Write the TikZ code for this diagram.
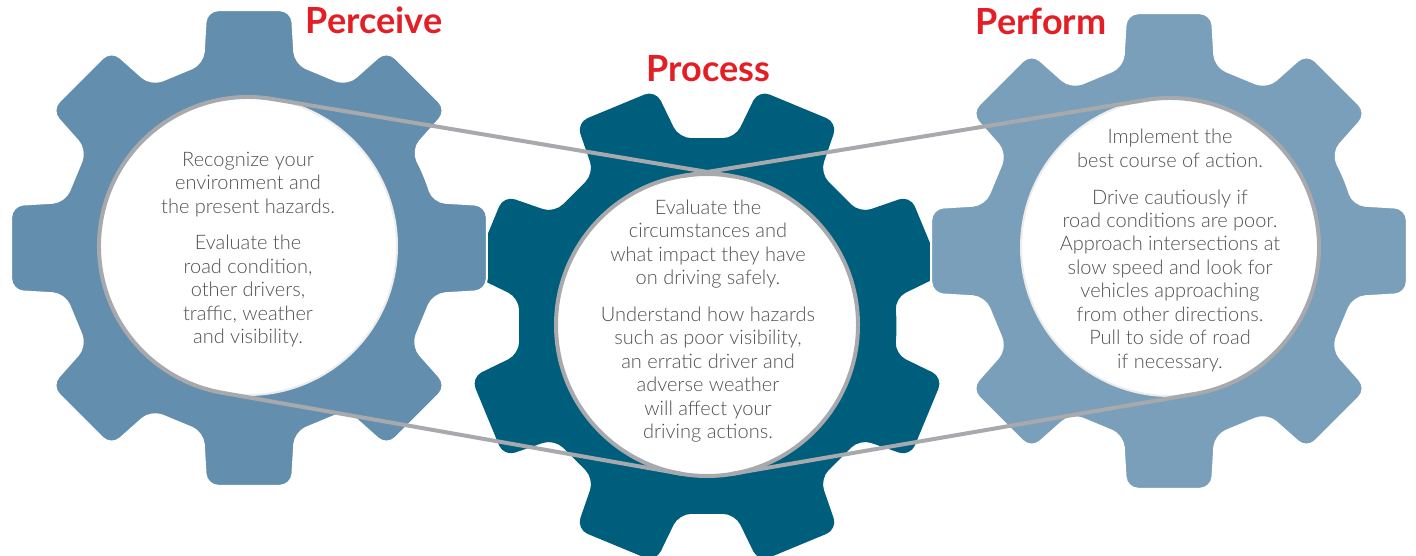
\documentclass[tikz,border=0pt]{standalone}
\usepackage{fontspec}
\setmainfont{Lato}
\IfFontExistsTF{Lato Light}{\newfontfamily\bodyfont{Lato Light}}{\newfontfamily\bodyfont{Lato}}
\usetikzlibrary{calc}
\definecolor{gearL}{RGB}{99,142,173}
\definecolor{gearM}{RGB}{0,94,125}
\definecolor{gearR}{RGB}{122,159,186}
\definecolor{belt}{RGB}{167,169,172}
\definecolor{rimgray}{RGB}{236,236,236}
\definecolor{txt}{RGB}{80,81,83}
\definecolor{ttl}{RGB}{227,30,36}
\tikzset{
  disc/.style={circle, fill=white, draw=rimgray, line width=1.5pt, inner sep=0pt, minimum size=#1},
  beltline/.style={draw=belt, line width=3pt},
  bodytext/.style={text=txt, align=center, font=\bodyfont\fontsize{15}{17.6}\selectfont},
  titletext/.style={text=ttl, anchor=base, font=\bfseries\fontsize{27}{32}\selectfont},
}
% #1 cx, #2 cy, #3 rotation, #4 style
\newcommand{\gearpath}[4]{%
  \path[rounded corners=9pt, shift={(#1,#2)}, #4] (#3-22.5:190)
    \foreach \k in {0,...,7}{
      -- (#3+45*\k-14:190) -- (#3+45*\k-10.2:241.6)
      -- (#3+45*\k+10.2:241.6) -- (#3+45*\k+14:190)
    } -- cycle;}
\begin{document}
\begin{tikzpicture}[x=0.75pt,y=-0.75pt]
\useasboundingbox (0,0) rectangle (1416,556);
% gears
\gearpath{707}{326}{22.5}{fill=gearM}
\gearpath{249}{248}{0}{fill=gearL, draw=white, line width=1.5pt}
\gearpath{1169}{251}{0}{fill=gearR, draw=white, line width=1.5pt}
% circles
\node[disc=223.5pt] (L) at (248,246) {};
\node[disc=223.5pt] (R) at (1170,247) {};
\node[disc=226.5pt, draw=belt, line width=3pt] (M) at (707,325) {};
% tangent points
\coordinate (Lt)  at ($(L.center)+(-80.24:149)$);
\coordinate (Lb)  at ($(L.center)+(99.76:149)$);
\coordinate (Mt1) at ($(M.center)+(-80.24:151)$);
\coordinate (Mb1) at ($(M.center)+(99.76:151)$);
\coordinate (Mt2) at ($(M.center)+(-99.56:151)$);
\coordinate (Mb2) at ($(M.center)+(80.44:151)$);
\coordinate (Rt)  at ($(R.center)+(-99.56:149)$);
\coordinate (Rb)  at ($(R.center)+(80.44:149)$);
% belt
\draw[beltline] (Lt) arc[start angle=-80.24, end angle=-260.24, radius=149];
\draw[beltline] (Rt) arc[start angle=-99.56, end angle=80.44, radius=149];
\draw[beltline] (Lt) -- (Mt1);
\draw[beltline] (Lb) -- (Mb1);
\draw[beltline] (Rt) -- (Mt2);
\draw[beltline] (Rb) -- (Mb2);
% titles
\node[titletext] (t1) at (374,34) {Perceive};
\node[titletext] (t2) at (708.5,82) {Process};
\node[titletext] (t3) at (1041,35) {Perform};
% texts
\node[bodytext] (x1) at (248,249.5) {Recognize your\\environment and\\the present hazards.\\[10pt]Evaluate the\\road condition,\\other drivers,\\traffic, weather\\and visibility.};
\node[bodytext] (x2) at (708,321) {Evaluate the\\circumstances and\\what impact they have\\on driving safely.\\[10pt]Understand how hazards\\such as poor visibility,\\an erratic driver and\\adverse weather\\will affect your\\driving actions.};
\node[bodytext] (x3) at (1170,250.5) {Implement the\\best course of action.\\[10pt]Drive cautiously if\\road conditions are poor.\\Approach intersections at\\slow speed and look for\\vehicles approaching\\from other directions.\\Pull to side of road\\if necessary.};
\end{tikzpicture}
\end{document}
